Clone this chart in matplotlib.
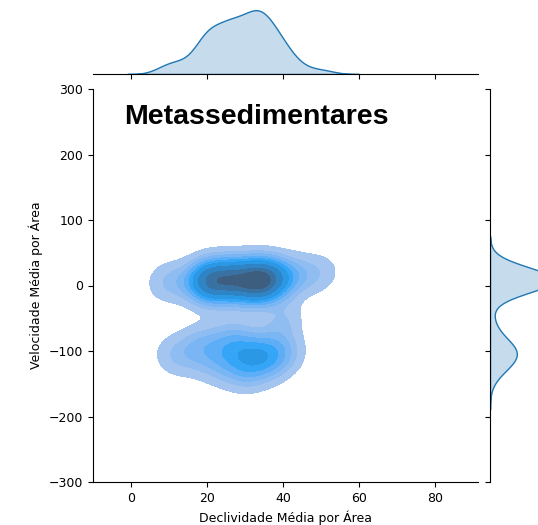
import matplotlib
matplotlib.use("Agg")
import matplotlib.pyplot as plt
import seaborn as sns

# dados estimados a partir da figura (declividade x velocidade)
decl_sup = [8, 11, 14, 18, 19, 19, 20, 20, 20, 21, 21, 22, 23, 23, 24, 25, 25, 26, 26, 27,
            27, 28, 28, 29, 30, 31, 31, 32, 32, 33, 33, 33, 34, 34, 34, 35, 35, 36, 36, 37,
            37, 38, 39, 40, 42, 44, 47, 51]
vel_sup = [4, 8, 2, 12, 6, 10, 0, 14, 4, 9, -4, 12, 6, 16, 2, 10, 5, 13, -2, 8,
           18, 3, 11, 7, 15, -6, 9, 4, 12, 6, 17, 1, 10, 7, 14, 3, 11, -3, 8, 16,
           5, 12, 8, 14, 10, 18, 16, 20]
decl_inf = [10, 13, 16, 19, 21, 23, 25, 26, 27, 29, 30, 31, 32, 33, 34, 35, 36, 37, 38, 40,
            42, 30, 18, 24, 28, 39, 41]
vel_inf = [-102, -112, -96, -116, -92, -122, -104, -128, -90, -110, -100, -132, -106, -94, -118,
           -102, -126, -96, -112, -108, -100, -134, -86, -82, -76, -62, -50]

x = decl_sup + decl_inf
y = vel_sup + vel_inf

xticks = [0, 20, 40, 60, 80]
yticks = [-300, -200, -100, 0, 100, 200, 300]

W, H = 538, 525
fig = plt.figure(figsize=(W / 100, H / 100), dpi=100)

# eixos posicionados em pixels (esq, topo, dir, base)
def px(l, t, r, b):
    return [l / W, 1 - b / H, (r - l) / W, (b - t) / H]

ax = fig.add_axes(px(93, 89, 478, 482))
ax_top = fig.add_axes(px(93, 7, 478, 74), sharex=ax)
ax_dir = fig.add_axes(px(490, 89, 557, 482), sharey=ax)

bw = 0.8
sns.kdeplot(x=x, y=y, fill=True, bw_adjust=bw, ax=ax)
sns.kdeplot(x=x, fill=True, bw_adjust=bw, ax=ax_top)
sns.kdeplot(y=y, fill=True, bw_adjust=bw, ax=ax_dir)

ax.set_xlim(-10, 91.3)
ax.set_ylim(-300, 300)
ax.set_xticks(xticks)
ax.set_yticks(yticks)
ax.tick_params(labelsize=9)
ax.set_xlabel("Declividade Média por Área", fontsize=9)
ax.set_ylabel("Velocidade Média por Área", fontsize=9)
for s in ["top", "right"]:
    ax.spines[s].set_visible(False)

ax.text(0.08, 0.93, "Metassedimentares", transform=ax.transAxes,
        fontsize=20.5, fontweight="bold", family="Liberation Sans", va="center")

# marginal superior
ax_top.set_ylim(bottom=0)
ax_top.tick_params(labelbottom=False, left=False, labelleft=False)
ax_top.set_xlabel("")
ax_top.set_ylabel("")
for s in ["top", "right", "left"]:
    ax_top.spines[s].set_visible(False)

# marginal direita
ax_dir.set_xlim(left=0)
ax_dir.tick_params(labelleft=False, bottom=False, labelbottom=False)
ax_dir.set_xlabel("")
ax_dir.set_ylabel("")
for s in ["top", "right", "bottom"]:
    ax_dir.spines[s].set_visible(False)

plt.savefig("out.png", dpi=100)
